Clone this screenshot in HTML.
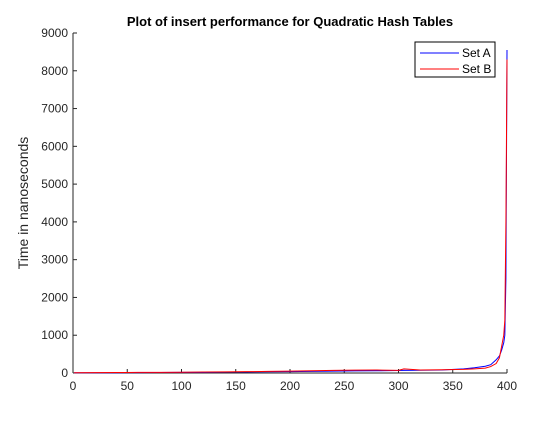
<!DOCTYPE html>
<html><head><meta charset="utf-8"><style>
body{margin:0;background:#fff;font-family:"Liberation Sans",sans-serif;}
svg text{font-family:"Liberation Sans",sans-serif;}
</style></head><body>
<svg id="chart" width="560" height="420" xmlns="http://www.w3.org/2000/svg">
<rect width="560" height="420" fill="#fff"/>
<text x="290" y="26" text-anchor="middle" font-size="13" font-weight="bold" fill="#000">Plot of insert performance for Quadratic Hash Tables</text>
<text transform="translate(28,203) rotate(-90)" text-anchor="middle" font-size="14" fill="#262626">Time in nanoseconds</text>
<g id="axes"></g>
<g id="series"></g>
<g>
<rect x="415" y="42" width="80" height="35" fill="#fff" stroke="#000" stroke-width="1"/>
<line x1="420" y1="53" x2="459" y2="53" stroke="#0000ff" stroke-width="1"/>
<text x="462" y="57" font-size="12" fill="#000">Set A</text>
<line x1="420" y1="69" x2="459" y2="69" stroke="#ff0000" stroke-width="1"/>
<text x="462" y="73" font-size="12" fill="#000">Set B</text>
</g>
</svg>
<script>
const xs = [1,20,40,60,80,100,120,140,150,160,180,200,220,240,260,280,300,305,320,340,360,370,380,385,390,393,395,397,398,399,400];
const setA = [5,6,8,10,12,15,18,22,25,28,32,36,42,48,55,60,65,68,72,80,110,140,180,220,350,450,600,800,1000,2500,8550];
const setB = [8,10,12,15,18,20,25,30,32,35,42,50,60,70,75,78,70,110,80,85,95,110,130,170,250,400,700,1000,1400,4000,8300];
const xTicks = [0,50,100,150,200,250,300,350,400];
const yTicks = [0,1000,2000,3000,4000,5000,6000,7000,8000,9000];
const X0=73,X1=507,Y0=373,Y1=33;
const sx=v=>X0+(v-0)/(400-0)*(X1-X0);
const sy=v=>Y0-(v-0)/(9000-0)*(Y0-Y1);
const NS="http://www.w3.org/2000/svg";
const ax=document.getElementById('axes');
function mk(t,a,p){const e=document.createElementNS(NS,t);for(const k in a)e.setAttribute(k,a[k]);p.appendChild(e);return e;}
mk('line',{x1:X0,y1:Y0,x2:X1,y2:Y0,stroke:'#262626'},ax);
mk('line',{x1:X0,y1:Y0,x2:X0,y2:Y1,stroke:'#262626'},ax);
xTicks.forEach(v=>{const x=sx(v);
 mk('line',{x1:x,y1:Y0,x2:x,y2:Y0-4,stroke:'#262626'},ax);
 const t=mk('text',{x:x,y:Y0+17,'text-anchor':'middle','font-size':12,fill:'#262626'},ax);t.textContent=v;
 
 });
yTicks.forEach(v=>{const y=sy(v);
 mk('line',{x1:X0,y1:y,x2:X0+4,y2:y,stroke:'#262626'},ax);
 const t=mk('text',{x:X0-5,y:y+4,'text-anchor':'end','font-size':12,fill:'#262626'},ax);t.textContent=v;
 
 });
const sg=document.getElementById('series');
function line(vals,col,name){
 const p=mk('polyline',{points:xs.map((x,i)=>sx(x)+','+sy(vals[i])).join(' '),fill:'none',stroke:col,'stroke-width':1},sg);
 
 
}
line(setA,'#0000ff','series-set-a');
line(setB,'#ff0000','series-set-b');
</script>
</body></html>
